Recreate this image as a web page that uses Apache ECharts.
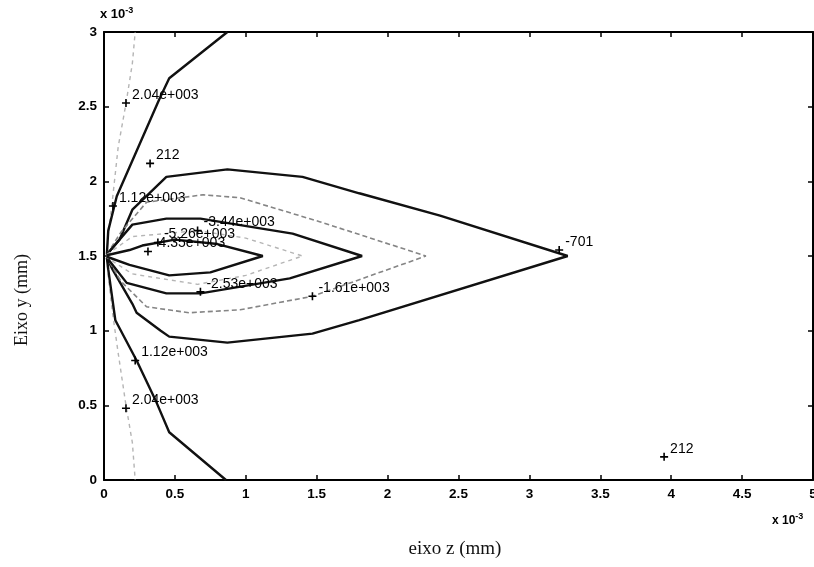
<!DOCTYPE html>
<html>
<head>
<meta charset="utf-8">
<script src="https://cdn.jsdelivr.net/npm/echarts@6/dist/echarts.min.js"></script>
<style>
  html, body { margin: 0; padding: 0; background: #fff; overflow: hidden; }
  #chart { width: 814px; height: 567px; }
</style>
</head>
<body>
<div id="chart"></div>
<script>
// Tick labels (axis values in units of 10^-3)
const zTicks = [0, 0.5, 1, 1.5, 2, 2.5, 3, 3.5, 4, 4.5, 5];
const yTicks = [0, 0.5, 1, 1.5, 2, 2.5, 3];

// Contour level 2.04e+003 (two branches near the z = 0 edge)
const c2040UpZ = [0.02, 0.03, 0.06, 0.10, 0.155, 0.20, 0.22];
const c2040UpY = [1.51, 1.64, 1.88, 2.23, 2.52, 2.79, 3.00];
const c2040LoZ = [0.02, 0.03, 0.06, 0.10, 0.155, 0.20, 0.22];
const c2040LoY = [1.49, 1.36, 1.12, 0.85, 0.50, 0.25, 0.00];

// Contour level 1.12e+003
const c1120UpZ = [0.02, 0.03, 0.09, 0.39, 0.46, 0.87];
const c1120UpY = [1.51, 1.67, 1.90, 2.55, 2.69, 3.00];
const c1120LoZ = [0.02, 0.03, 0.08, 0.23, 0.37, 0.46, 0.86];
const c1120LoY = [1.49, 1.41, 1.07, 0.80, 0.52, 0.32, 0.00];

// Contour level -701 (closed lobe)
const c701Z = [0.02, 0.11, 0.20, 0.44, 0.87, 1.40, 1.80, 2.37, 3.27, 1.80, 1.47, 0.87, 0.46, 0.40, 0.23, 0.20, 0.06, 0.02];
const c701Y = [1.51, 1.61, 1.81, 2.03, 2.08, 2.03, 1.92, 1.77, 1.50, 1.07, 0.98, 0.92, 0.96, 1.00, 1.12, 1.18, 1.41, 1.49];

// Contour level -1.61e+003
const c1610Z = [0.02, 0.12, 0.30, 0.70, 0.96, 1.52, 2.27, 1.47, 0.96, 0.60, 0.30, 0.12, 0.02];
const c1610Y = [1.51, 1.66, 1.86, 1.91, 1.89, 1.73, 1.50, 1.23, 1.14, 1.12, 1.16, 1.33, 1.49];

// Contour level -2.53e+003
const c2530Z = [0.02, 0.20, 0.44, 0.68, 1.33, 1.82, 1.31, 0.68, 0.44, 0.16, 0.02];
const c2530Y = [1.51, 1.71, 1.75, 1.75, 1.65, 1.50, 1.35, 1.25, 1.25, 1.32, 1.49];

// Contour level -3.44e+003
const c3440Z = [0.02, 0.20, 0.66, 1.00, 1.40, 1.00, 0.66, 0.20, 0.02];
const c3440Y = [1.51, 1.63, 1.67, 1.62, 1.50, 1.37, 1.31, 1.38, 1.49];

// Contour level -4.35e+003
const c4350Z = [0.02, 0.18, 0.27, 0.50, 0.80, 1.12, 0.75, 0.46, 0.18, 0.02];
const c4350Y = [1.505, 1.54, 1.57, 1.61, 1.58, 1.50, 1.39, 1.37, 1.44, 1.495];

// Contour labels: "+" marker position and text
const markZ = [0.155, 0.325, 0.063, 0.66, 0.38, 0.31, 0.68, 1.47, 3.21, 0.22, 0.155, 3.95];
const markY = [2.525, 2.12, 1.835, 1.67, 1.59, 1.53, 1.26, 1.23, 1.54, 0.80, 0.48, 0.155];
const markText = ['2.04e+003', '212', '1.12e+003', '-3.44e+003', '-5.26e+003', '-4.35e+003',
                  '-2.53e+003', '-1.61e+003', '-701', '1.12e+003', '2.04e+003', '212'];

const zip = (zs, ys) => zs.map((z, i) => [z, ys[i]]);

const SOLID = { color: '#111111', width: 2.4, type: 'solid' };
const GREY = { color: '#858585', width: 1.6, type: [5, 3] };
const FAINT = { color: '#b5b5b5', width: 1.4, type: [4, 4] };

function contour(zs, ys, style) {
  return {
    type: 'line',
    data: zip(zs, ys),
    showSymbol: false,
    symbol: 'none',
    lineStyle: style,
    silent: true,
    animation: false,
    z: 3
  };
}

const plusPath = 'path://M-1,-0.2H-0.2V-1H0.2V-0.2H1V0.2H0.2V1H-0.2V0.2H-1Z';

const SANS = 'Liberation Sans, Arial, sans-serif';
const tickFont = { color: '#000', fontSize: 13.5, fontFamily: SANS, fontWeight: 'bold' };
const frameLine = { onZero: false, lineStyle: { color: '#000', width: 2 } };
const frameTick = { inside: true, length: 5, lineStyle: { color: '#000', width: 1.5 } };

const chart = echarts.init(document.getElementById('chart'), null, { renderer: 'canvas', width: 814, height: 567 });

chart.setOption({
  backgroundColor: '#ffffff',
  animation: false,
  grid: { left: 104, width: 709, top: 32, height: 448, containLabel: false, outerBoundsMode: 'none' },
  xAxis: [
    {
      type: 'value', position: 'bottom', min: zTicks[0], max: zTicks[zTicks.length - 1], interval: 0.5,
      axisLine: frameLine, axisTick: frameTick,
      axisLabel: Object.assign({ margin: 7, formatter: v => String(v) }, tickFont),
      splitLine: { show: false }
    },
    {
      type: 'value', position: 'top', min: zTicks[0], max: zTicks[zTicks.length - 1], interval: 0.5,
      axisLine: frameLine, axisTick: frameTick,
      axisLabel: { show: false }, splitLine: { show: false }
    }
  ],
  yAxis: [
    {
      type: 'value', position: 'left', min: yTicks[0], max: yTicks[yTicks.length - 1], interval: 0.5,
      axisLine: frameLine, axisTick: frameTick,
      axisLabel: Object.assign({ margin: 7, formatter: v => String(v) }, tickFont),
      splitLine: { show: false }
    },
    {
      type: 'value', position: 'right', min: yTicks[0], max: yTicks[yTicks.length - 1], interval: 0.5,
      axisLine: frameLine, axisTick: frameTick,
      axisLabel: { show: false }, splitLine: { show: false }
    }
  ],
  series: [
    contour(c2040UpZ, c2040UpY, FAINT),
    contour(c2040LoZ, c2040LoY, FAINT),
    contour(c1120UpZ, c1120UpY, SOLID),
    contour(c1120LoZ, c1120LoY, SOLID),
    contour(c701Z, c701Y, SOLID),
    contour(c1610Z, c1610Y, GREY),
    contour(c2530Z, c2530Y, SOLID),
    contour(c3440Z, c3440Y, FAINT),
    contour(c4350Z, c4350Y, SOLID),
    {
      type: 'scatter',
      data: markZ.map((z, i) => [z, markY[i], markText[i]]),
      symbol: plusPath,
      symbolSize: 8,
      itemStyle: { color: '#000', opacity: 1 },
      silent: true,
      z: 5,
      label: {
        show: true,
        position: 'right',
        distance: 2,
        offset: [0, -8],
        formatter: p => p.value[2],
        color: '#000',
        fontSize: 14,
        fontFamily: SANS
      }
    }
  ],
  graphic: [
    {
      type: 'text', left: 100, top: 6,
      style: {
        text: '{a|x 10}{b|-3}',
        rich: {
          a: { fontSize: 13, fontWeight: 'bold', fill: '#000', fontFamily: SANS },
          b: { fontSize: 9, fontWeight: 'bold', fill: '#000', verticalAlign: 'top', padding: [0, 0, 8, 0], fontFamily: SANS }
        }
      }
    },
    {
      type: 'text', left: 772, top: 512,
      style: {
        text: '{a|x 10}{b|-3}',
        rich: {
          a: { fontSize: 12, fontWeight: 'bold', fill: '#000', fontFamily: SANS },
          b: { fontSize: 9, fontWeight: 'bold', fill: '#000', verticalAlign: 'top', padding: [0, 0, 8, 0], fontFamily: SANS }
        }
      }
    },
    {
      type: 'text', x: 22, y: 300, rotation: Math.PI / 2,
      style: {
        text: 'Eixo y (mm)', fill: '#111', fontSize: 18,
        fontFamily: 'Liberation Serif, Times New Roman, serif',
        align: 'center', verticalAlign: 'middle'
      }
    },
    {
      type: 'text', x: 455, y: 549,
      style: {
        text: 'eixo z (mm)', fill: '#111', fontSize: 19,
        fontFamily: 'Liberation Serif, Times New Roman, serif',
        align: 'center', verticalAlign: 'middle'
      }
    }
  ]
});
</script>
</body>
</html>
